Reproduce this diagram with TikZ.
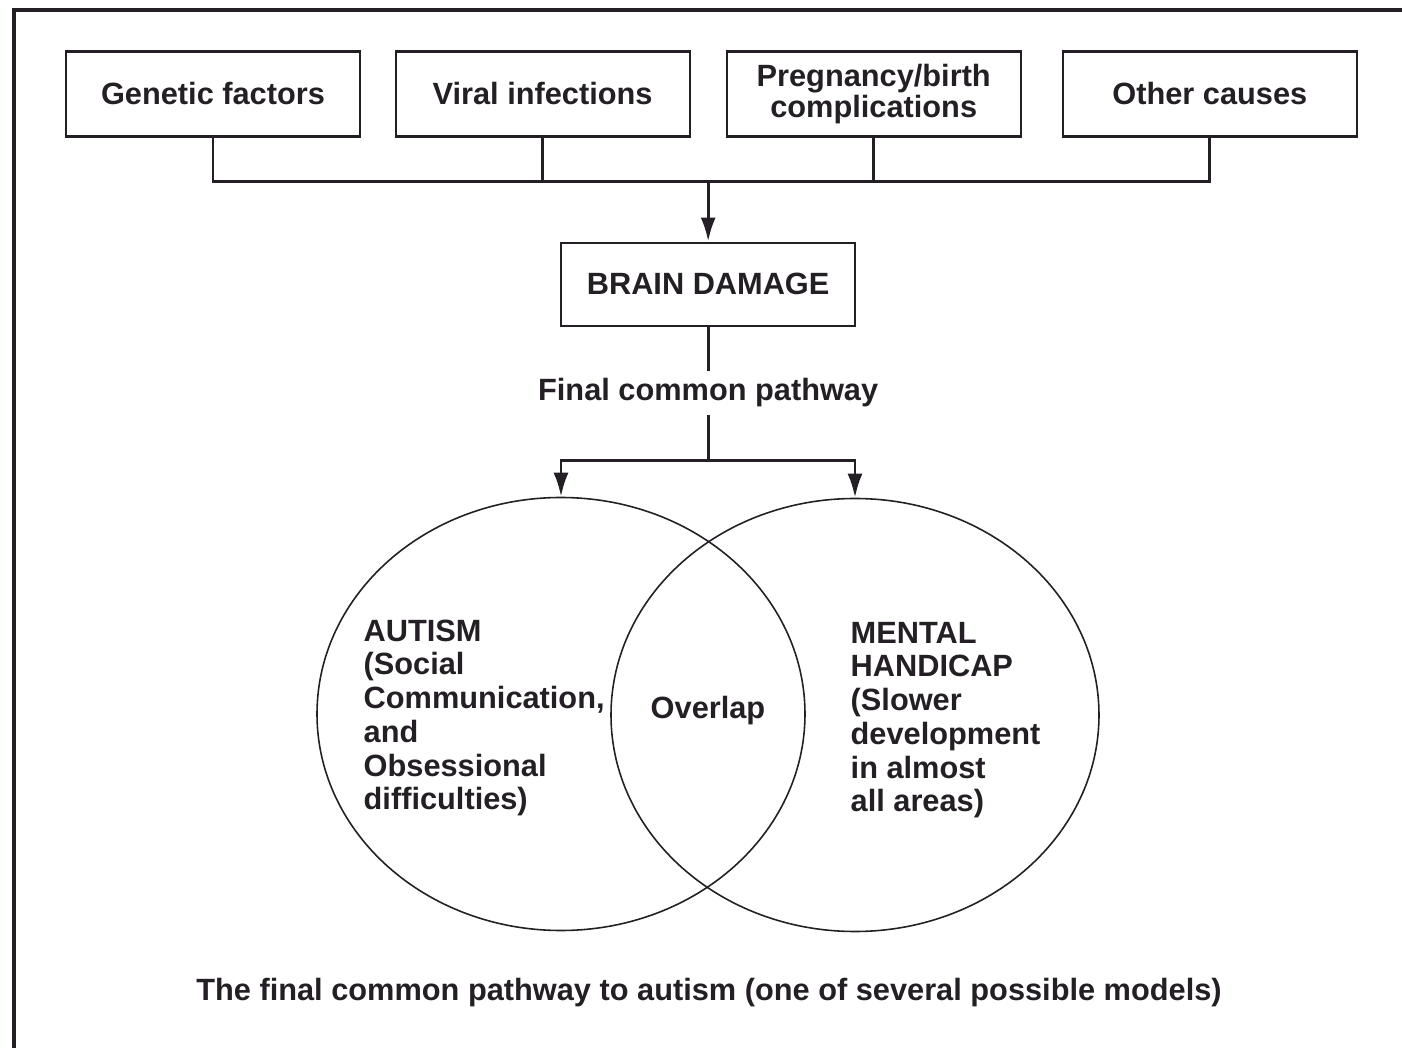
\documentclass[tikz,border=0pt]{standalone}
\usepackage{fontspec}
\setmainfont{Liberation Sans}
\usetikzlibrary{arrows.meta, positioning, shapes.geometric, calc}
\definecolor{inkDark}{HTML}{231F24}
\colorlet{colLine}{inkDark}
\colorlet{colText}{inkDark}
\newcommand{\diagFont}{\bfseries\fontsize{8.75}{8.6}\selectfont}
\newcommand{\setFont}{\bfseries\fontsize{8.75}{9.6}\selectfont}
\tikzset{
  causeBox/.style={
    draw=colLine, line width=0.6pt,
    minimum height=0.85cm, minimum width=2.94cm,
    align=center, font=\diagFont, text=colText, inner sep=2pt
  },
  brainBox/.style={causeBox, minimum height=0.83cm},
  joinLine/.style={colLine, line width=0.85pt},
  arrowDown/.style={-{Latex[length=2.4mm, width=1.5mm]}, line width=0.85pt, colLine},
  vennSet/.style={ellipse, draw=colLine, line width=0.45pt,
    minimum width=4.88cm, minimum height=4.33cm, inner sep=0pt},
  setLabel/.style={align=left, anchor=west, inner sep=0pt, font=\setFont, text=colText},
  pathLabel/.style={font=\diagFont, text=colText, inner sep=2pt},
  frameLine/.style={colLine, line width=1pt},
}
\begin{document}
\begin{tikzpicture}[node distance=0.335cm]
  \useasboundingbox (0,0) rectangle (14.02,-10.48);
  % frame of the page
  \draw[frameLine] (0.14,-10.48) -- (0.14,-0.10) -- (14.02,-0.10);

  % causes
  \node[causeBox] (gen) at (2.13,-0.94) {Genetic factors};
  \node[causeBox, right=of gen] (viral) {Viral infections};
  \node[causeBox, right=0.35cm of viral] (preg) {Pregnancy/birth\\complications};
  \node[causeBox, right=0.40cm of preg] (other) {Other causes};

  \node[brainBox, below=1.04cm of $(viral.south)!0.5!(preg.south)$] (brain) {BRAIN DAMAGE};
  \coordinate (jTop) at ($(brain.north)+(0,0.6)$);
  \draw[joinLine] (gen.south) |- (jTop);
  \draw[joinLine] (viral.south) |- (jTop);
  \draw[joinLine] (preg.south) |- (jTop);
  \draw[joinLine] (other.south) |- (jTop);
  \draw[arrowDown] (jTop) -- (brain.north);

  \node[pathLabel, below=0.44cm of brain] (path) {Final common pathway};
  \draw[joinLine] (brain.south) -- (path.north);

  % the two sets
  \node[vennSet] (autism) at (5.61,-7.14) {};
  \node[vennSet] (mental) at (8.55,-7.15) {};
  \coordinate (split) at ($(path.south)+(0,-0.46)$);
  \draw[joinLine] (path.south) -- (split);
  \draw[arrowDown] (split) -| (autism.north);
  \draw[arrowDown] (split) -| (mental.north);

  \node[setLabel] (autismText) at (3.63,-7.18)
    {AUTISM\\(Social\\Communication,\\and\\Obsessional\\difficulties)};
  \node[setLabel] (mentalText) at (8.50,-7.20)
    {MENTAL\\HANDICAP\\(Slower\\development\\in almost\\all areas)};
  \node[pathLabel] (overlap) at ($(autism)!0.5!(mental)+(0,0.04)$) {Overlap};

  \node[pathLabel] (caption) at (7.09,-9.93)
    {The final common pathway to autism (one of several possible models)};
\end{tikzpicture}
\end{document}
